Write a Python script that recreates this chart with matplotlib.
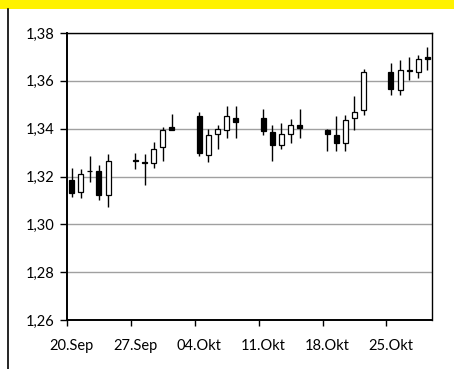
import numpy as np
import pandas as pd
import matplotlib
matplotlib.use("Agg")
import matplotlib.pyplot as plt
from matplotlib.patches import Rectangle
from matplotlib.lines import Line2D

# daily OHLC, trading days only (weekends are gaps on the date axis)
dates = ["2010-09-20", "2010-09-21", "2010-09-22", "2010-09-23", "2010-09-24",
         "2010-09-27", "2010-09-28", "2010-09-29", "2010-09-30", "2010-10-01",
         "2010-10-04", "2010-10-05", "2010-10-06", "2010-10-07", "2010-10-08",
         "2010-10-11", "2010-10-12", "2010-10-13", "2010-10-14", "2010-10-15",
         "2010-10-18", "2010-10-19", "2010-10-20", "2010-10-21", "2010-10-22",
         "2010-10-25", "2010-10-26", "2010-10-27", "2010-10-28", "2010-10-29"]
opens  = [1.3187, 1.3135, 1.3224, 1.3223, 1.3124, 1.3266, 1.3259, 1.3258, 1.3323, 1.3405,
          1.3452, 1.3289, 1.3379, 1.3396, 1.3446, 1.3446, 1.3386, 1.3331, 1.3379, 1.3414,
          1.3393, 1.3372, 1.3338, 1.3445, 1.3477, 1.3637, 1.3560, 1.3641, 1.3637, 1.3700]
highs  = [1.3234, 1.3233, 1.3286, 1.3247, 1.3296, 1.3297, 1.3296, 1.3344, 1.3407, 1.3463,
          1.3470, 1.3400, 1.3416, 1.3494, 1.3494, 1.3482, 1.3414, 1.3424, 1.3440, 1.3482,
          1.3400, 1.3452, 1.3456, 1.3537, 1.3651, 1.3676, 1.3689, 1.3700, 1.3707, 1.3741]
lows   = [1.3113, 1.3109, 1.3177, 1.3101, 1.3073, 1.3233, 1.3163, 1.3236, 1.3264, 1.3395,
          1.3284, 1.3259, 1.3317, 1.3361, 1.3361, 1.3372, 1.3265, 1.3317, 1.3338, 1.3361,
          1.3307, 1.3307, 1.3307, 1.3393, 1.3456, 1.3540, 1.3540, 1.3602, 1.3612, 1.3644]
closes = [1.3133, 1.3212, 1.3222, 1.3124, 1.3265, 1.3264, 1.3257, 1.3313, 1.3393, 1.3396,
          1.3299, 1.3374, 1.3399, 1.3452, 1.3427, 1.3390, 1.3331, 1.3379, 1.3417, 1.3403,
          1.3379, 1.3342, 1.3435, 1.3470, 1.3637, 1.3565, 1.3644, 1.3643, 1.3693, 1.3693]

week_ticks = ["2010-09-20", "2010-09-27", "2010-10-04", "2010-10-11", "2010-10-18", "2010-10-25"]
week_labels = ["20.Sep", "27.Sep", "04.Okt", "11.Okt", "18.Okt", "25.Okt"]
y_ticks = [1.26, 1.28, 1.30, 1.32, 1.34, 1.36, 1.38]

plt.rcParams['font.family'] = ['Lato', 'DejaVu Sans']

W, H = 454, 369
fig = plt.figure(figsize=(W/100, H/100), dpi=100)
ax = fig.add_axes([67/W, 1 - 320/H, (432 - 67)/W, (320 - 33)/H])

start = pd.Timestamp("2010-09-20")
x = np.array([(pd.Timestamp(d) - start).days for d in dates]) + 0.5
bw = 0.55

for xi, o, h, l, c in zip(x, opens, highs, lows, closes):
    ax.plot([xi, xi], [l, h], color="black", lw=1.0, zorder=2, solid_capstyle="butt")
    lo, hi = min(o, c), max(o, c)
    face = "black" if c < o else "white"
    ax.add_patch(Rectangle((xi - bw/2, lo), bw, max(hi - lo, 0.0003),
                           facecolor=face, edgecolor="black", lw=0.9, zorder=3))

ax.set_xlim(0, 40)
ax.set_ylim(1.26, 1.38)

tick_x = [(pd.Timestamp(d) - start).days for d in week_ticks]
ax.set_xticks(tick_x)
ax.set_xticklabels([])
ax.set_xticks([t + 0.5 for t in tick_x], minor=True)
ax.set_xticklabels(week_labels, minor=True)
ax.tick_params(axis="x", which="major", length=4, width=1, direction="out")
ax.tick_params(axis="x", which="minor", length=0, pad=14, labelsize=10.5)

ax.set_yticks(y_ticks)
ax.set_yticklabels([f"{v:.2f}".replace(".", ",") for v in y_ticks])
ax.tick_params(axis="y", length=5, width=1, direction="out", pad=4, labelsize=10.5)

ax.grid(axis="y", color="#a0a0a0", lw=1.0, zorder=0)
ax.set_axisbelow(True)
for side in ["top", "right"]:
    ax.spines[side].set_linewidth(1.0)
for side in ["left", "bottom"]:
    ax.spines[side].set_linewidth(1.4)

# yellow header strip (title mostly cropped away) and left rule of the page
fig.add_artist(Rectangle((0, 1 - 9/H), 1, 9/H, transform=fig.transFigure,
                         facecolor="#FFF200", edgecolor="none"))
fig.text(58/W, 1 + 4/H, "y", fontsize=16, fontweight="bold", va="baseline")
fig.add_artist(Line2D([8/W, 8/W], [0, 1 - 9/H], transform=fig.transFigure,
                      color="black", lw=1.2))

fig.savefig("out.png", dpi=100)
